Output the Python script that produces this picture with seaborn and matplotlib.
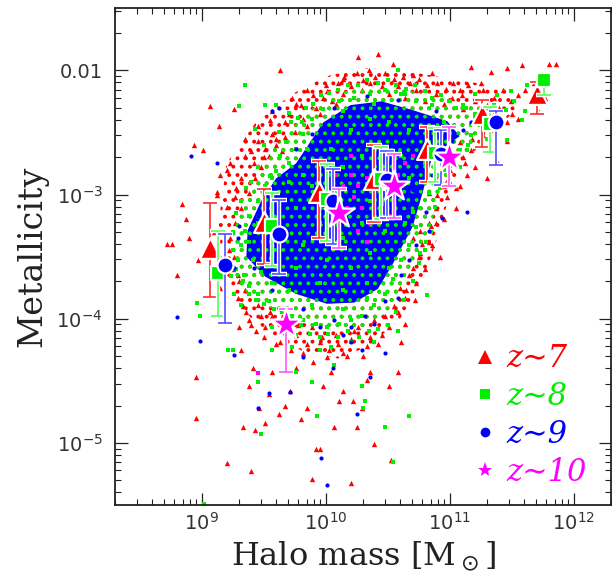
import numpy as np
import pandas as pd
import seaborn as sns
import matplotlib
matplotlib.use("Agg")
import matplotlib.pyplot as plt
from matplotlib.lines import Line2D
from matplotlib.ticker import LogLocator, NullFormatter

# ---------------- data (log10 values) ----------------
# z~7 cloud: outliers and dense band
red_logM = [8.72, 8.76, 8.80, 8.84, 8.87, 8.90, 8.94, 8.95, 8.95, 8.97, 9.01, 9.07, 9.12, 9.14, 9.15,
            9.20, 9.23, 9.26, 9.27, 9.29, 9.30, 9.32, 9.33, 9.35, 9.38, 9.40, 9.41, 9.43, 9.45, 9.46,
            9.48, 9.51, 9.54, 9.57, 9.62, 9.63, 9.67, 9.71, 9.76, 9.80, 9.85, 9.89, 9.92, 9.95, 9.98,
            10.04, 10.07, 10.11, 10.14, 10.20, 10.22, 10.25, 10.29, 10.33, 10.36, 10.39, 10.51, 10.53,
            10.58, 10.61, 10.64, 10.65, 10.70, 10.75, 10.86, 10.92, 10.42, 10.54, 10.26, 9.85, 9.63,
            9.73, 10.01, 10.14, 10.70, 10.86, 11.08, 11.17, 11.33, 11.46, 11.58, 11.80, 11.86, 11.55,
            11.46, 11.39, 11.30, 11.14, 11.08, 10.98, 11.05, 10.89, 10.83, 10.76, 10.95,
            9.57, 9.67, 9.76, 9.82, 9.92, 9.98, 10.08, 10.14, 10.20, 10.29, 10.36, 10.45, 10.51, 10.58,
            10.64, 10.73, 10.80, 10.89, 10.95, 11.02, 11.11, 11.20, 11.27, 11.36, 11.43, 11.49, 11.61,
            11.68, 11.74, 11.77, 11.36, 11.24, 11.46, 11.27, 11.17, 11.11, 11.02, 11.20, 11.08, 10.92,
            10.95, 10.83, 10.89, 10.83, 10.76, 10.70, 10.73, 10.64, 10.58, 10.51, 10.45, 10.39, 10.33,
            10.26, 10.20, 10.14, 10.08, 10.01, 9.95, 9.89, 9.82, 9.76, 9.70, 9.63, 9.57, 9.51, 9.45,
            9.38, 9.35, 9.29, 9.26, 9.23, 9.27, 9.32, 9.38, 9.43, 9.48, 9.54, 9.60, 9.67, 9.57, 9.51,
            9.42, 9.32,
            9.35, 9.40, 9.45, 9.50, 9.55, 9.60, 9.65, 9.70, 9.75, 9.80, 9.85, 9.90, 9.95, 10.00, 10.05,
            10.10, 10.15, 10.25, 10.30, 10.35, 10.40, 10.48, 10.55, 10.62, 10.68, 10.75, 10.82, 10.90,
            10.97, 11.03, 11.10, 11.15, 11.25, 11.30, 11.40, 11.50, 11.55, 11.65, 11.70, 11.80,
            9.20, 9.22, 9.25, 9.28, 9.30, 9.33, 9.36, 9.40, 9.44, 9.50, 9.55, 9.60, 9.66, 9.72, 9.78,
            9.85, 9.90, 9.97, 10.03, 10.10, 10.17, 10.23, 10.30, 10.36, 10.42, 10.48, 10.55, 10.60,
            10.67, 10.72, 10.78, 10.80, 10.85, 10.90, 10.97, 11.00, 11.05, 11.12, 11.18, 11.25,
            9.10, 9.05, 9.15, 9.18, 9.12, 9.20]
red_logZ = [-3.40, -3.40, -3.65, -3.08, -3.20, -3.35, -2.60, -4.47, -4.80, -3.53, -2.64, -2.29, -2.98,
            -2.45, -2.84, -5.16, -2.75, -2.31, -3.02, -3.83, -4.07, -4.25, -4.87, -2.69, -4.54, -5.23,
            -4.40, -4.90, -2.57, -4.72, -3.98, -4.84, -4.61, -4.43, -4.77, -4.10, -4.70, -4.58, -4.40,
            -4.81, -4.72, -5.29, -5.05, -5.05, -4.54, -4.43, -4.87, -4.66, -4.58, -5.32, -4.66, -4.87,
            -4.72, -4.49, -4.43, -5.01, -4.54, -5.14, -4.43, -4.19, -4.04, -3.77, -3.59, -3.50, -3.41,
            -3.50, -1.87, -1.95, -1.89, -2.16, -2.00, -2.22, -2.17, -2.07, -2.04, -2.02, -2.16, -1.97,
            -2.01, -1.98, -1.96, -1.95, -1.95, -2.39, -2.57, -2.75, -2.87, -2.84, -2.93, -3.02, -3.11,
            -3.11, -3.23, -3.29, -3.20,
            -2.33, -2.42, -2.27, -2.39, -2.30, -2.22, -2.27, -2.19, -2.13, -2.16, -2.10, -2.13, -2.19,
            -2.13, -2.22, -2.16, -2.25, -2.19, -2.27, -2.22, -2.31, -2.25, -2.16, -2.22, -2.16, -2.25,
            -2.16, -2.10, -2.04, -2.22, -2.34, -2.39, -2.42, -2.52, -2.64, -2.70, -2.75, -2.78, -2.58,
            -2.84, -2.93, -2.99, -3.23, -3.38, -3.47, -3.35, -3.71, -3.83, -3.95, -4.07, -4.13, -4.01,
            -4.22, -4.07, -4.16, -4.28, -4.13, -4.31, -4.19, -4.07, -4.28, -4.13, -4.04, -4.19, -3.98,
            -4.07, -3.89, -4.01, -3.77, -3.65, -3.50, -3.35, -3.23, -3.11, -2.99, -2.87, -2.78, -2.69,
            -2.60, -2.54, -2.51, -2.63, -2.75, -2.87,
            -2.55, -2.65, -2.45, -2.70, -2.40, -2.55, -2.65, -2.35, -2.50, -2.28, -2.45, -2.20, -2.35,
            -2.12, -2.25, -2.10, -2.05, -2.02, -2.08, -2.00, -2.05, -2.02, -2.07, -2.05, -2.10, -2.07,
            -2.12, -2.10, -2.15, -2.10, -2.20, -2.12, -2.10, -2.28, -2.30, -2.35, -2.20, -2.25, -2.30,
            -2.10,
            -3.10, -3.45, -3.60, -2.95, -3.70, -3.90, -3.95, -4.05, -4.10, -4.15, -3.95, -4.20, -4.05,
            -4.25, -4.05, -4.20, -4.35, -4.15, -4.25, -4.20, -4.30, -4.10, -4.30, -4.15, -4.20, -3.98,
            -3.90, -3.75, -3.65, -3.85, -3.40, -3.60, -3.25, -3.00, -2.90, -2.80, -2.95, -2.75, -2.55,
            -2.60,
            -3.30, -3.50, -3.75, -3.55, -3.00, -2.80]

# z~8 cloud: outliers and dense band
green_logM = [9.35, 9.30, 9.43, 9.51, 9.60, 9.70, 9.81, 9.60, 9.38, 9.24, 8.96, 8.99, 9.02, 9.21, 9.25,
              9.45, 9.48, 9.57, 9.73, 9.76, 9.89, 9.93, 10.04, 10.07, 10.29, 10.30, 10.32, 10.39, 10.48,
              10.54, 10.67, 10.58, 10.76, 10.81, 10.82, 10.70, 10.99, 11.08, 11.14, 11.30, 11.42, 11.46,
              11.61, 11.36, 11.49, 11.20, 10.58, 10.64,
              9.63, 9.70, 9.57, 9.51, 9.45, 9.38, 9.35, 9.32, 9.29, 9.34, 9.38, 9.45, 9.54, 9.63, 9.73,
              9.82, 9.92, 10.01, 10.11, 10.20, 10.29, 10.39, 10.48, 10.54, 10.61, 10.67, 10.73, 10.76,
              10.83, 10.89, 10.98, 11.08, 11.17, 11.27, 11.24, 11.11, 10.99, 10.86, 10.73, 10.61, 10.48,
              10.36, 10.23, 10.11, 9.98, 9.89, 9.82, 9.76, 9.85, 9.57, 9.45, 9.41, 9.48, 9.57, 9.70,
              9.89, 10.14, 10.33, 10.51, 10.64, 10.80, 10.95, 10.39, 10.14, 9.70, 9.26, 9.32, 9.57, 9.76,
              9.95, 10.20,
              9.40, 9.45, 9.50, 9.55, 9.62, 9.68, 9.72, 9.78, 9.84, 9.90, 9.96, 10.03, 10.10, 10.18,
              10.26, 10.33, 10.42, 10.50, 10.57, 10.65, 10.72, 10.80, 10.86, 10.93, 11.00, 11.05, 11.13,
              11.20, 11.28, 11.33,
              11.15, 11.05, 10.95, 10.92, 10.88, 10.85, 10.80, 10.75, 10.70, 10.63, 10.57, 10.50, 10.42,
              10.35, 10.27, 10.18, 10.10, 10.02, 9.95, 9.87, 9.80, 9.72, 9.65, 9.58, 9.50, 9.44, 9.38,
              9.33, 9.28, 9.25, 9.25, 9.28, 9.32, 9.36,
              11.38, 11.45, 11.52, 11.58, 11.62]
green_logZ = [-2.12, -2.29, -2.47, -2.28, -2.28, -2.34, -2.42, -2.81, -3.38, -3.66, -3.87, -3.98, -5.49,
              -4.25, -4.25, -4.51, -4.93, -4.25, -4.23, -4.43, -4.51, -4.78, -4.23, -4.37, -4.54, -4.72,
              -4.66, -4.19, -4.87, -5.15, -4.78, -4.10, -3.47, -3.38, -3.81, -3.14, -2.78, -2.78, -2.64,
              -2.55, -2.45, -2.56, -2.33, -2.28, -2.17, -2.19, -2.00, -2.19,
              -2.69, -2.75, -2.87, -2.93, -3.05, -3.17, -3.29, -3.41, -3.53, -3.65, -3.74, -3.80, -3.86,
              -3.92, -3.98, -4.01, -4.04, -4.07, -4.04, -4.01, -3.98, -3.89, -3.80, -3.68, -3.53, -3.41,
              -3.26, -3.11, -2.99, -2.87, -2.69, -2.64, -2.52, -2.42, -2.31, -2.28, -2.25, -2.28, -2.25,
              -2.19, -2.16, -2.19, -2.22, -2.25, -2.31, -2.39, -2.51, -2.63, -2.63, -3.05, -3.23, -3.53,
              -3.62, -3.71, -3.77, -3.89, -3.92, -3.83, -3.59, -3.23, -2.75, -2.42, -2.27, -2.33, -2.90,
              -3.80, -3.89, -4.07, -4.13, -4.25, -4.19,
              -2.90, -2.78, -2.60, -2.85, -2.50, -2.58, -2.42, -2.38, -2.30, -2.27, -2.20, -2.18, -2.16,
              -2.12, -2.12, -2.08, -2.10, -2.08, -2.12, -2.15, -2.12, -2.17, -2.22, -2.20, -2.25, -2.30,
              -2.30, -2.35, -2.38, -2.48,
              -2.60, -2.70, -2.80, -2.95, -3.10, -3.30, -3.45, -3.55, -3.70, -3.85, -3.95, -4.05, -4.08,
              -4.10, -4.15, -4.10, -4.15, -4.12, -4.15, -4.12, -4.05, -4.00, -3.95, -3.92, -3.88, -3.85,
              -3.80, -3.70, -3.60, -3.45, -3.30, -3.15, -3.05, -2.95,
              -2.20, -2.32, -2.25, -2.40, -2.12]

# green points seen inside the dense core
green_core_logM = [10.04, 10.20, 10.36, 10.51, 10.67, 10.14, 10.29, 10.45, 10.61, 9.89, 10.04, 10.36,
                   10.51, 10.67, 9.76, 9.95, 10.14, 10.29, 10.48, 9.63, 9.82, 10.01, 10.20, 10.36, 9.57,
                   9.76, 9.95, 10.14, 10.33, 10.07, 9.82]
green_core_logZ = [-2.63, -2.48, -2.39, -2.42, -2.48, -2.78, -2.69, -2.63, -2.69, -2.93, -2.99, -3.05,
                   -2.93, -2.87, -3.11, -3.23, -3.35, -3.23, -3.29, -3.29, -3.41, -3.53, -3.59, -3.47,
                   -3.47, -3.59, -3.71, -3.77, -3.71, -3.17, -2.84]

# outline of the zone where the z~7 points crowd together
outer_logM = [9.20, 9.45, 9.75, 10.00, 10.30, 10.60, 10.90, 11.20, 11.45, 11.55, 11.35, 11.15, 11.00,
              10.90, 10.78, 10.60, 10.35, 10.10, 9.85, 9.60, 9.40, 9.22, 9.12]
outer_logZ = [-2.75, -2.40, -2.18, -2.05, -1.98, -2.00, -2.05, -2.10, -2.15, -2.30, -2.50, -2.70, -3.00,
              -3.35, -3.70, -4.00, -4.22, -4.32, -4.28, -4.15, -4.00, -3.75, -3.35]

# outline of the band where the z~8 points crowd together
band_logM = [9.55, 9.85, 10.14, 10.45, 10.76, 11.08, 11.30, 11.27, 11.05, 10.92, 10.84, 10.70, 10.53,
             10.29, 9.98, 9.68, 9.40, 9.22, 9.24, 9.36, 9.47]
band_logZ = [-2.66, -2.33, -2.17, -2.12, -2.18, -2.25, -2.32, -2.52, -2.70, -2.99, -3.29, -3.62, -3.93,
             -4.08, -4.10, -3.98, -3.83, -3.62, -3.32, -3.02, -2.82]

# outline of the region where the z~9 points merge into a solid patch
core_logM = [9.76, 9.98, 10.20, 10.45, 10.70, 10.98, 11.08, 10.86, 10.78, 10.70, 10.54, 10.42, 10.23,
             10.01, 9.76, 9.51, 9.36, 9.37, 9.48, 9.60]
core_logZ = [-2.75, -2.42, -2.28, -2.25, -2.32, -2.41, -2.53, -2.69, -2.99, -3.26, -3.56, -3.76, -3.87,
             -3.88, -3.80, -3.66, -3.50, -3.29, -3.05, -2.87]

# z~9 individual points
blue_logM = [8.91, 9.12, 8.80, 8.99, 9.26, 9.30, 9.45, 9.54, 9.71, 9.82, 9.96, 10.01, 10.06, 10.25,
             10.29, 10.48, 10.20, 10.36, 10.94, 11.14, 10.70, 9.57, 9.62,
             9.70, 9.57, 9.45, 9.38, 9.42, 9.57, 9.82, 10.07, 10.32, 10.48, 10.61, 10.73, 10.81, 10.86,
             10.95, 11.11, 10.89, 10.58, 10.33, 10.07, 9.89, 9.76, 11.02, 11.17, 10.58, 10.20, 9.95,
             9.29, 9.26, 9.63, 10.14, 10.39, 10.67, 10.83]
blue_logZ = [-2.69, -2.75, -3.99, -4.18, -4.29, -3.25, -4.72, -4.60, -4.59, -4.31, -5.12, -5.34, -4.40,
             -4.77, -4.25, -4.28, -4.19, -4.47, -3.19, -3.14, -2.96, -2.33, -2.30,
             -2.84, -2.99, -3.17, -3.41, -3.59, -3.77, -3.92, -4.01, -3.98, -3.86, -3.65, -3.41, -3.14,
             -2.84, -2.63, -2.48, -2.33, -2.24, -2.21, -2.30, -2.51, -2.63, -2.57, -2.42, -3.83, -4.07,
             -4.07, -3.35, -3.59, -3.92, -4.13, -4.04, -3.53, -3.29]

# z~10 individual points
mag_logM = [10.20, 10.26, 10.33, 10.39, 10.45, 10.51, 10.29, 10.23, 10.36, 10.17, 10.11, 10.26, 10.58,
            10.64, 10.39, 10.20, 10.48, 10.70, 10.33, 10.14, 10.08, 9.45, 10.61]
mag_logZ = [-2.84, -2.93, -2.87, -2.99, -3.08, -3.17, -3.11, -3.02, -3.23, -3.11, -3.23, -3.29, -2.84,
            -2.75, -2.72, -2.69, -2.81, -2.69, -3.38, -2.93, -2.84, -4.44, -2.99]

# binned medians with error bars
mass7 = [1.17e9, 3.16e9, 8.9e9, 2.45e10, 6.6e10, 1.83e11, 5.1e11]
met7 = [3.7e-4, 5.96e-4, 1.05e-3, 1.34e-3, 2.33e-3, 4.46e-3, 6.5e-3]
hi7 = [8.5e-4, 1.1e-3, 1.86e-3, 2.5e-3, 3.47e-3, 5.75e-3, 8.1e-3]
lo7 = [1.5e-4, 2.75e-4, 4.45e-4, 6.0e-4, 1.27e-3, 2.4e-3, 4.46e-3]

mass8 = [1.35e9, 3.7e9, 1.02e10, 2.8e10, 7.6e10, 2.1e11, 5.75e11]
met8 = [2.34e-4, 5.6e-4, 9.2e-4, 1.34e-3, 2.17e-3, 3.7e-3, 8.3e-3]
hi8 = [5.1e-4, 1.02e-3, 1.77e-3, 2.4e-3, 3.4e-3, 5.1e-3, 9.0e-3]
lo8 = [1.05e-4, 2.66e-4, 4.2e-4, 6.3e-4, 1.27e-3, 2.2e-3, 6.3e-3]

mass9 = [1.54e9, 4.17e9, 1.14e10, 3.1e10, 8.5e10, 2.35e11]
met9 = [2.7e-4, 4.8e-4, 8.9e-4, 1.3e-3, 2.1e-3, 3.8e-3]
hi9 = [4.8e-4, 9.0e-4, 1.6e-3, 2.25e-3, 3.3e-3, 4.7e-3]
lo9 = [9.3e-5, 2.3e-4, 4.0e-4, 6.5e-4, 1.2e-3, 1.73e-3]

mass10 = [4.8e9, 1.29e10, 3.55e10, 9.8e10]
met10 = [9.1e-5, 7.1e-4, 1.17e-3, 2.0e-3]
hi10 = [1.2e-4, 1.1e-3, 2.1e-3, 3.47e-3]
lo10 = [3.7e-5, 3.7e-4, 6.5e-4, 1.18e-3]

labels = ["z\u223c7", "z\u223c8", "z\u223c9", "z\u223c10"]
xticks = [1e9, 1e10, 1e11, 1e12]
xticklabels = ["$10^{9}$", "$10^{10}$", "$10^{11}$", "$10^{12}$"]
yticks = [1e-5, 1e-4, 1e-3, 1e-2]
yticklabels = ["$10^{-5}$", "$10^{-4}$", "$10^{-3}$", "0.01"]

# ---------------- styling ----------------
RED, GREEN, BLUE, MAG = "#ff0000", "#00ee00", "#0000ff", "#ff00ff"

sns.set_theme(style="ticks")
plt.rcParams["font.family"] = ["DejaVu Sans"]
plt.rcParams["mathtext.fontset"] = "dejavusans"
plt.rcParams["hatch.linewidth"] = 1.6

fig = plt.figure(figsize=(6.12, 5.82), dpi=100)
ax = fig.add_axes([0.188, 0.1323, 0.8105, 0.8536])
ax.set_xscale("log")
ax.set_yscale("log")


def cloud(lm, lz, marker, s, color, z):
    df = pd.DataFrame({"m": 10 ** np.asarray(lm), "z": 10 ** np.asarray(lz)})
    sns.scatterplot(data=df, x="m", y="z", marker=marker, s=s, color=color,
                    linewidth=0, ax=ax, legend=False, zorder=z)


def region(lm, lz, face, hatch_color, z):
    ax.fill(10 ** np.asarray(lm), 10 ** np.asarray(lz), facecolor=face,
            edgecolor=hatch_color, hatch="..", lw=0, zorder=z)


region(outer_logM, outer_logZ, "none", RED, 0.5)
cloud(red_logM, red_logZ, "^", 15, RED, 1)
region(band_logM, band_logZ, "none", GREEN, 1.5)
region(core_logM, core_logZ, BLUE, GREEN, 2)
cloud(green_logM, green_logZ, "s", 12, GREEN, 3)
cloud(green_core_logM, green_core_logZ, "s", 11, GREEN, 3.5)
cloud(blue_logM, blue_logZ, "o", 9, BLUE, 4)
cloud(mag_logM, mag_logZ, "s", 8, MAG, 4.5)


def medians(m, v, hi, lo, marker, ms, color, barcolor, z):
    m = np.asarray(m)
    v = np.asarray(v)
    yerr = [v - np.asarray(lo), np.asarray(hi) - v]
    ax.errorbar(m, v, yerr=yerr, fmt="none", ecolor="white", elinewidth=3.2,
                capsize=6, capthick=3.2, zorder=z)
    ax.errorbar(m, v, yerr=yerr, fmt="none", ecolor=barcolor, elinewidth=1.2,
                capsize=5, capthick=1.2, zorder=z + 0.1)
    df = pd.DataFrame({"m": m, "v": v})
    sns.scatterplot(data=df, x="m", y="v", marker=marker, s=ms ** 2, color=color,
                    edgecolor="white", linewidth=1.6, ax=ax, legend=False, zorder=z + 0.2)


medians(mass7, met7, hi7, lo7, "^", 15, RED, "#ff2a2a", 10)
medians(mass8, met8, hi8, lo8, "s", 10, GREEN, "#55ff55", 11)
medians(mass9, met9, hi9, lo9, "o", 11.5, BLUE, "#5050ff", 12)
medians(mass10, met10, hi10, lo10, "*", 23, MAG, "#ff55ff", 13)

ax.set_xlim(2e8, 2e12)
ax.set_ylim(10 ** -5.5, 10 ** -1.5)

ax.set_xticks(xticks, labels=xticklabels)
ax.set_yticks(yticks, labels=yticklabels)
ax.xaxis.set_minor_locator(LogLocator(base=10, subs=np.arange(2, 10), numticks=30))
ax.yaxis.set_minor_locator(LogLocator(base=10, subs=np.arange(2, 10), numticks=30))
ax.xaxis.set_minor_formatter(NullFormatter())
ax.yaxis.set_minor_formatter(NullFormatter())
ax.tick_params(which="both", direction="in", top=True, right=True, color="#222222")
ax.tick_params(which="major", length=9, width=0.9, labelsize=14, labelcolor="#333333")
ax.tick_params(which="minor", length=4.5, width=0.8)
ax.tick_params(axis="x", which="major", pad=5)
ax.tick_params(axis="y", which="major", pad=9)
for sp in ax.spines.values():
    sp.set_linewidth(1.3)
    sp.set_color("#222222")
    sp.set_zorder(20)

ax.set_xlabel("Halo mass [M$_\\odot$]", family="DejaVu Serif", fontsize=23, color="#222222", labelpad=4)
ax.set_ylabel("Metallicity", family="DejaVu Serif", fontsize=24, color="#222222", labelpad=6)

handles = [Line2D([], [], ls="none", marker="^", ms=9.5, color=RED, mew=0),
           Line2D([], [], ls="none", marker="s", ms=6.5, color=GREEN, mew=0),
           Line2D([], [], ls="none", marker="o", ms=7, color=BLUE, mew=0),
           Line2D([], [], ls="none", marker="*", ms=11, color=MAG, mew=0)]
ax.legend(handles, labels, loc="lower right", bbox_to_anchor=(0.95, 0.035),
          frameon=False, prop={"family": "DejaVu Serif", "style": "italic", "size": 22},
          labelcolor=[RED, GREEN, BLUE, MAG], handlelength=0.8, handletextpad=0.3,
          labelspacing=0.22, borderpad=0, borderaxespad=0)

fig.savefig("out.png", dpi=100)
